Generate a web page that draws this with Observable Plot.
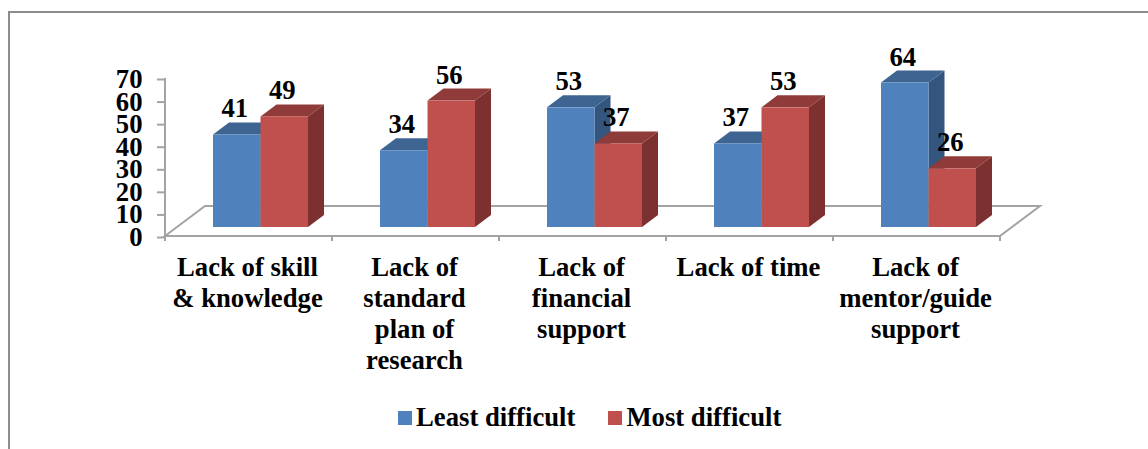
<!DOCTYPE html>
<html><head><meta charset="utf-8">
<script src="https://cdn.jsdelivr.net/npm/d3@7"></script>
<script src="https://cdn.jsdelivr.net/npm/@observablehq/plot@0.6"></script>
<style>
html,body{margin:0;padding:0;background:#fff;overflow:hidden}
#wrap{position:relative;width:1148px;height:449px;overflow:hidden;font-family:"Liberation Serif",serif;font-weight:bold;color:#000}
#frame{position:absolute;left:8px;top:11px;right:0;bottom:0;border-left:2px solid #8c8c8c;border-top:2px solid #8c8c8c}
#chart{position:relative}
#chart svg{display:block;background:transparent}
#legend{position:relative;height:54px;display:flex;align-items:flex-start;padding-left:398px;font-size:26.7px;line-height:30px;padding-top:7px;box-sizing:border-box}
#legend .k{display:inline-block;width:14px;height:14px;margin-right:4px;margin-top:9px}
#legend .e{display:flex;margin-right:33px}
</style></head><body>
<div id="wrap"><div id="frame"></div><div id="chart"></div><div id="legend"></div></div>
<script>
const categories = ["Lack of skill\n& knowledge","Lack of\nstandard\nplan of\nresearch","Lack of\nfinancial\nsupport","Lack of time","Lack of\nmentor/guide\nsupport"];
const seriesNames = ["Least difficult","Most difficult"];
const leastDifficult = [41,34,53,37,64];
const mostDifficult = [49,56,37,53,26];
const yTicks = [0,10,20,30,40,50,60,70];
const frontColors = ["#4F81BD","#C0504D"];
const topColors = ["#3E6592","#8F3B39"];
const sideColors = ["#33557E","#7C302F"];
const axisColor = "#a3a3a3";

const rows = categories.flatMap((category,i)=>[
  {category,series:seriesNames[0],value:leastDifficult[i]},
  {category,series:seriesNames[1],value:mostDifficult[i]}
]);
const barDx = 12, barDy = -9, depthX = 16, depthY = -12;

function bars3d(index, scales, values, dims, ctx){
  const g = d3.create("svg:g");
  const bw = typeof scales.x.bandwidth === "function" ? scales.x.bandwidth() : scales.x.bandwidth;
  for (const i of index){
    const s = seriesNames.indexOf(rows[i].series);
    const x0 = values.x[i]+barDx, x1 = x0+bw;
    const yt = Math.min(values.y1[i],values.y2[i])+barDy, yb = Math.max(values.y1[i],values.y2[i])+barDy;
    g.append("path").attr("fill",sideColors[s])
      .attr("d",`M${x1},${yt}L${x1+depthX},${yt+depthY}L${x1+depthX},${yb+depthY}L${x1},${yb}Z`);
    g.append("path").attr("fill",topColors[s])
      .attr("d",`M${x0},${yt}L${x0+depthX},${yt+depthY}L${x1+depthX},${yt+depthY}L${x1},${yt}Z`);
    g.append("rect").attr("fill",frontColors[s]).attr("x",x0).attr("y",yt).attr("width",bw).attr("height",yb-yt);
  }
  return g.node();
}

function floorMark(index, scales, values, dims){
  const g = d3.create("svg:g").attr("fill","none").attr("stroke",axisColor).attr("stroke-width",2);
  const xL = dims.marginLeft, xR = dims.width-dims.marginRight, y0 = scales.y(0), y1 = scales.y(yTicks[yTicks.length-1]);
  const fx = 40, fy = -30;
  g.append("path").attr("d",`M${xL},${y0}L${xL+fx},${y0+fy}L${xR+fx},${y0+fy}L${xR},${y0}Z`);
  g.append("path").attr("d",`M${xL},${y1}V${y0+5}`);
  const step = (xR-xL)/categories.length;
  d3.range(categories.length+1).forEach(i=>{
    g.append("path").attr("d",`M${xL+i*step},${y0}v5`);
  });
  return g.node();
}

const plot = Plot.plot({
  width:1148, height:395,
  marginLeft:165, marginRight:148, marginTop:78, marginBottom:159,
  style:{fontFamily:"Liberation Serif",fontWeight:"bold",fontSize:"26.7px",background:"transparent",color:"#000",overflow:"visible"},
  fx:{domain:categories,padding:0,label:null},
  x:{domain:seriesNames,paddingInner:0,paddingOuter:0.758,round:false,axis:null},
  y:{domain:[0,70],label:null},
  color:{domain:seriesNames,range:frontColors},
  marks:[
    Plot.frame({facet:"super",render:floorMark}),
    Plot.axisY({ticks:yTicks,tickSize:8,tickPadding:15,stroke:axisColor,strokeWidth:2,strokeOpacity:1,color:"#000",fontSize:26.7,fontWeight:"bold",label:null,dy:1}),
    Plot.axisFx({tickSize:0,tickPadding:17,fontSize:26.7,fontWeight:"bold",lineHeight:1.17,label:null,dx:-1.5,anchor:"bottom"}),
    Plot.barY(rows,{fx:"category",x:"series",y:"value",fill:"series",render:bars3d}),
    Plot.text(rows,{fx:"category",x:"series",y:"value",text:"value",dx:barDx-2.5,dy:-26.5,lineAnchor:"bottom",fontSize:26.7,fontWeight:"bold",fill:"#000"})
  ]
});
document.getElementById("chart").append(plot);
const leg = d3.select("#legend");
seriesNames.forEach((n,i)=>{
  const e = leg.append("div").attr("class","e");
  e.append("span").attr("class","k").style("background",frontColors[i]);
  e.append("span").text(n);
});
</script>
</body></html>
